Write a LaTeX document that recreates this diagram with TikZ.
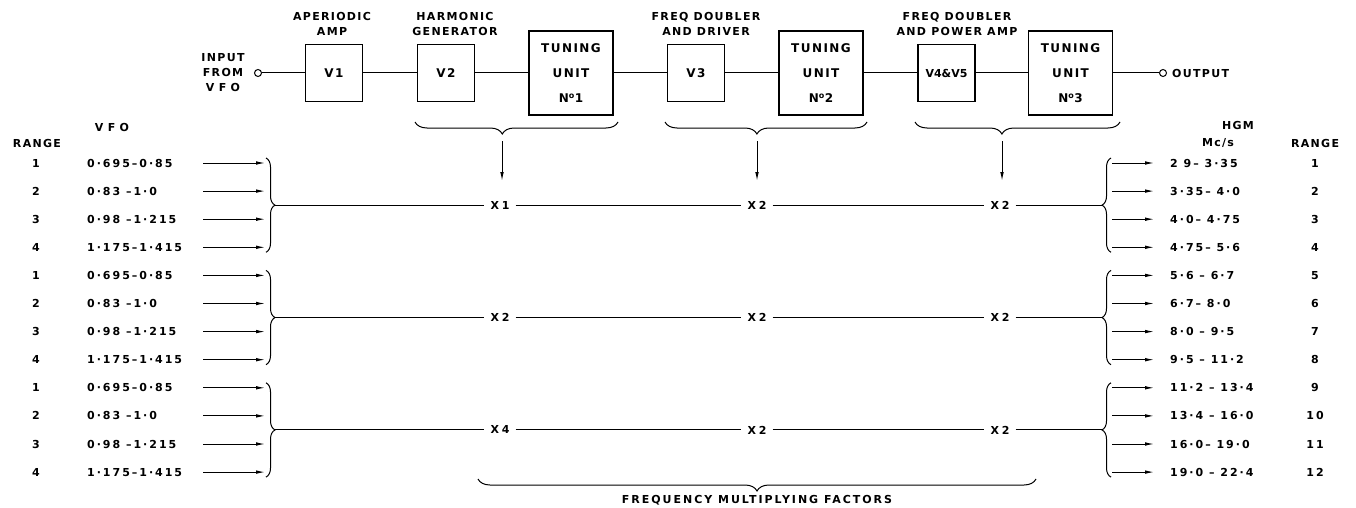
\documentclass[tikz,border=0pt]{standalone}
\usepackage{fontspec}
\setmainfont{DejaVu Sans}[LetterSpace=12]
\usetikzlibrary{arrows.meta,positioning,decorations.pathreplacing}
\tikzset{
  hgmline/.style={line width=1pt},
  hgmarrow/.style={-{Latex[length=9pt,width=3.6pt]}, line width=1pt},
  hgmbrace/.style={decorate, line width=1pt, decoration={brace, amplitude=#1}},
  hgmbox/.style={draw, line width=1.2pt, minimum width=57pt, minimum height=57pt, inner sep=0pt, font=\fontsize{12}{14}\selectfont\bfseries},
  hgmtune/.style={draw, line width=1.2pt, minimum width=84pt, minimum height=84pt, inner sep=0pt, align=center, font=\fontsize{12}{25}\selectfont\bfseries},
  hgmlabel/.style={align=center, inner sep=0pt, font=\fontsize{11}{15}\selectfont\bfseries},
  hgmrow/.style={inner sep=0pt, font=\fontsize{11}{13}\selectfont\bfseries\addfontfeature{LetterSpace=18}},
  hgmcirc/.style={draw, circle, line width=1pt, minimum size=7pt, inner sep=0pt, fill=white},
  hgmfactor/.style={inner xsep=6pt, inner ysep=1pt, font=\fontsize{11}{13}\selectfont\bfseries\addfontfeature{LetterSpace=25}}
}
\begin{document}
\begin{tikzpicture}[x=1pt, y=-1pt]
\useasboundingbox (0,0) rectangle (1356,508);

% transmitter chain
\node[hgmlabel] (inlab) at (223,73) {INPUT\\FROM\\{\addfontfeature{LetterSpace=40}VFO}};
\node[hgmcirc] (inp) at (258,73) {};
\node[hgmbox] (v1) at (334,73) {V1};
\node[hgmbox] (v2) at (446,73) {V2};
\node[hgmtune] (tu1) at (571,73) {TUNING\\UNIT\\N\textsuperscript{o}1};
\node[hgmbox] (v3) at (696,73) {V3};
\node[hgmtune] (tu2) at (821,73) {TUNING\\UNIT\\N\textsuperscript{o}2};
\node[hgmbox, font=\fontsize{11}{14}\selectfont\bfseries\addfontfeature{LetterSpace=0}] (v45) at (946.5,73) {V4\&V5};
\node[hgmtune] (tu3) at (1070.5,73) {TUNING\\UNIT\\N\textsuperscript{o}3};
\node[hgmcirc] (outp) at (1163,73) {};
\node[hgmlabel, anchor=west] (outlab) at (1172,73) {OUTPUT};

\node[hgmlabel] (lab1) at (332,23.5) {APERIODIC\\AMP};
\node[hgmlabel] (lab2) at (455,23.5) {HARMONIC\\GENERATOR};
\node[hgmlabel] (lab3) at (706,23.5) {FREQ DOUBLER\\AND DRIVER};
\node[hgmlabel] (lab4) at (957,23.5) {FREQ DOUBLER\\AND POWER AMP};

\draw[hgmline] (inp) -- (v1) -- (v2) -- (tu1) -- (v3) -- (tu2) -- (v45) -- (tu3) -- (outp);

% stage braces
\draw[hgmbrace=12pt, decoration={aspect=0.57}] (618,122) -- (415,122);
\draw[hgmbrace=12pt, decoration={aspect=0.545}] (867,122) -- (665,122);
\draw[hgmbrace=12pt, decoration={aspect=0.576}] (1120,122) -- (915,122);
\coordinate (st1) at (502,141);
\coordinate (st2) at (757,141);
\coordinate (st3) at (1002,141);
\coordinate (se1) at (502,181);
\coordinate (se2) at (757,181);
\coordinate (se3) at (1002,181);
\draw[hgmarrow] (st1) -- (se1);
\draw[hgmarrow] (st2) -- (se2);
\draw[hgmarrow] (st3) -- (se3);

% headers
\node[hgmlabel] (vfohead) at (112,127) {\addfontfeature{LetterSpace=40}VFO};
\node[hgmlabel] (lrange) at (37,143) {RANGE};
\node[hgmlabel] (hgmhead) at (1238,125) {HGM};
\node[hgmlabel] (mcs) at (1218,143) {Mc/s};
\node[hgmlabel] (rrange) at (1315,143) {RANGE};

% ranges
\foreach \r/\lv/\hv [evaluate=\r as \y using 163+28.1*\r,
    evaluate=\r as \k using {int(mod(\r,4)+1)},
    evaluate=\r as \m using int(\r+1)] in
  {0/{0·695–0·85}/{2 9– 3·35}, 1/{0·83 –1·0}/{3·35– 4·0},
   2/{0·98 –1·215}/{4·0– 4·75}, 3/{1·175–1·415}/{4·75– 5·6},
   4/{0·695–0·85}/{5·6 – 6·7}, 5/{0·83 –1·0}/{6·7– 8·0},
   6/{0·98 –1·215}/{8·0 – 9·5}, 7/{1·175–1·415}/{9·5 – 11·2},
   8/{0·695–0·85}/{11·2 – 13·4}, 9/{0·83 –1·0}/{13·4 – 16·0},
   10/{0·98 –1·215}/{16·0– 19·0}, 11/{1·175–1·415}/{19·0 – 22·4}}{
  \node[hgmrow] (lnum\r) at (36,\y) {\k};
  \node[hgmrow, anchor=west] (lvfo\r) at (87,\y) {\lv};
  \coordinate (la\r) at (203,\y);
  \coordinate (lb\r) at (265,\y);
  \draw[hgmarrow] (la\r) -- (lb\r);
  \coordinate (rb\r) at (1112,\y);
  \coordinate (ra\r) at (1154,\y);
  \draw[hgmarrow] (rb\r) -- (ra\r);
  \node[hgmrow, anchor=west] (hgm\r) at (1170,\y) {\hv};
  \node[hgmrow] (rnum\r) at (1315,\y) {\m};
}

% multiplying factors
\foreach \g/\fa/\fb/\fc [evaluate=\g as \yt using 163+112.4*\g-5,
    evaluate=\g as \yb using 163+112.4*\g+84.3+5,
    evaluate=\g as \yc using 163+112.4*\g+42.15] in
  {0/X1/X2/X2, 1/X2/X2/X2, 2/X4/X2/X2}{
  \draw[hgmbrace=9pt] (266,\yt) -- (266,\yb);
  \draw[hgmbrace=9pt] (1111,\yb) -- (1111,\yt);
  \coordinate (lt\g) at (275,\yc);
  \coordinate (rt\g) at (1102,\yc);
  \node[hgmfactor] (fa\g) at (500,\yc) {\fa};
  \node[hgmfactor] (fb\g) at (757,\yc) {\fb};
  \node[hgmfactor] (fc\g) at (1000,\yc) {\fc};
  \draw[hgmline] (lt\g) -- (fa\g) -- (fb\g) -- (fc\g) -- (rt\g);
}

\draw[hgmbrace=12pt] (1036,479) -- (478,479);
\node[hgmrow] (fmf) at (757,500) {FREQUENCY MULTIPLYING FACTORS};
\end{tikzpicture}
\end{document}
